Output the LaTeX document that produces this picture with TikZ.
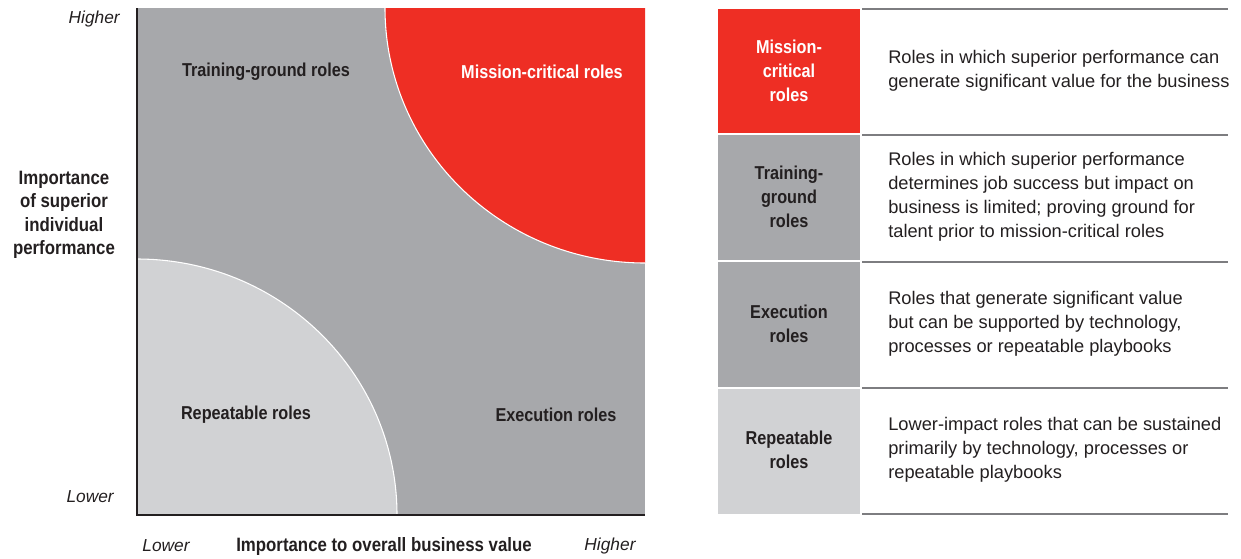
\documentclass[tikz,border=0pt]{standalone}
\usepackage{fontspec}
\setmainfont{Liberation Sans}
\newfontfamily\condsans[FakeStretch=0.87]{Liberation Sans}
\definecolor{mcred}{RGB}{238,46,36}
\definecolor{midgrey}{RGB}{167,168,171}
\definecolor{lightgrey}{RGB}{209,210,212}
\definecolor{inkblack}{RGB}{35,31,32}
\definecolor{rulegrey}{RGB}{125,125,128}
\begin{document}
\begin{tikzpicture}[x=0.75pt,y=0.75pt,yscale=-1,xscale=1,
  quadlabel/.style={font=\condsans\fontsize{14}{15}\selectfont\bfseries,text=inkblack,inner sep=0.75pt},
  celllabel/.style={font=\condsans\fontsize{14}{18}\selectfont\bfseries,align=center,text=inkblack,inner sep=0.75pt},
  desclabel/.style={font=\fontsize{13.7}{18}\selectfont,align=left,anchor=west,text=inkblack,inner sep=0.75pt},
  endlabel/.style={font=\fontsize{13}{17}\selectfont\itshape,text=inkblack,inner sep=0.75pt}]
\useasboundingbox (0,0) rectangle (1241,558);

%Shape: Square
\fill [midgrey] (137,8) rectangle (645,515) ;
%Shape: Quarter Ellipse top right
\fill [mcred] (645,8) -- (385,8) arc [start angle=180,end angle=90,x radius=260,y radius=255] -- cycle ;
\draw [white,line width=0.8pt] (385,8) arc [start angle=180,end angle=90,x radius=260,y radius=255] ;
%Shape: Quarter Ellipse bottom left
\fill [lightgrey] (137,515) -- (137,259) arc [start angle=270,end angle=360,x radius=260,y radius=256] -- cycle ;
\draw [white,line width=0.8pt] (137,259) arc [start angle=270,end angle=360,x radius=260,y radius=256] ;
%Straight Lines
\draw [inkblack,line width=1.1pt] (137,8) -- (137,515) -- (645,515) ;

% Text Node
\node [quadlabel] (trainq) at (266,72) {Training-ground roles};
% Text Node
\node [quadlabel,text=white] (missionq) at (542,72) {Mission-critical roles};
% Text Node
\node [quadlabel] (repeatq) at (246,415) {Repeatable roles};
% Text Node
\node [quadlabel] (execq) at (556,415) {Execution roles};

% Text Node
\node [endlabel,anchor=east] (yhigh) at (121,19) {Higher};
% Text Node
\node [endlabel,anchor=east] (ylow) at (115,497) {Lower};
% Text Node
\node [celllabel,font=\condsans\fontsize{14.5}{17.5}\selectfont\bfseries] (ytitle) at (64,215) {Importance\\of superior\\individual\\performance};
% Text Node
\node [endlabel] (xlow) at (166,546) {Lower};
% Text Node
\node [quadlabel,font=\condsans\fontsize{14.5}{15}\selectfont\bfseries] (xtitle) at (384,546) {Importance to overall business value};
% Text Node
\node [endlabel] (xhigh) at (610,546) {Higher};

%Shape: Table cells
\fill [mcred] (718,9) rectangle (860,133) ;
\fill [midgrey] (718,135) rectangle (860,260) ;
\fill [midgrey] (718,262) rectangle (860,387) ;
\fill [lightgrey] (718,389) rectangle (860,514) ;
%Straight Lines
\foreach \y in {9,135,262,388,514}
  \draw [rulegrey,line width=0.9pt] (862,\y) -- (1228,\y) ;

% Text Node
\node [celllabel,text=white] (mccell) at (789,71) {Mission-\\critical\\roles};
% Text Node
\node [celllabel] (tgcell) at (789,197) {Training-\\ground\\roles};
% Text Node
\node [celllabel] (excell) at (789,324) {Execution\\roles};
% Text Node
\node [celllabel] (rpcell) at (789,450) {Repeatable\\roles};

% Text Node
\node [desclabel] (mcdesc) at (887,71) {Roles in which superior performance can\\generate significant value for the business};
% Text Node
\node [desclabel] (tgdesc) at (887,197) {Roles in which superior performance\\determines job success but impact on\\business is limited; proving ground for\\talent prior to mission-critical roles};
% Text Node
\node [desclabel] (exdesc) at (887,324) {Roles that generate significant value\\but can be supported by technology,\\processes or repeatable playbooks};
% Text Node
\node [desclabel] (rpdesc) at (887,450) {Lower-impact roles that can be sustained\\primarily by technology, processes or\\repeatable playbooks};

\end{tikzpicture}
\end{document}
